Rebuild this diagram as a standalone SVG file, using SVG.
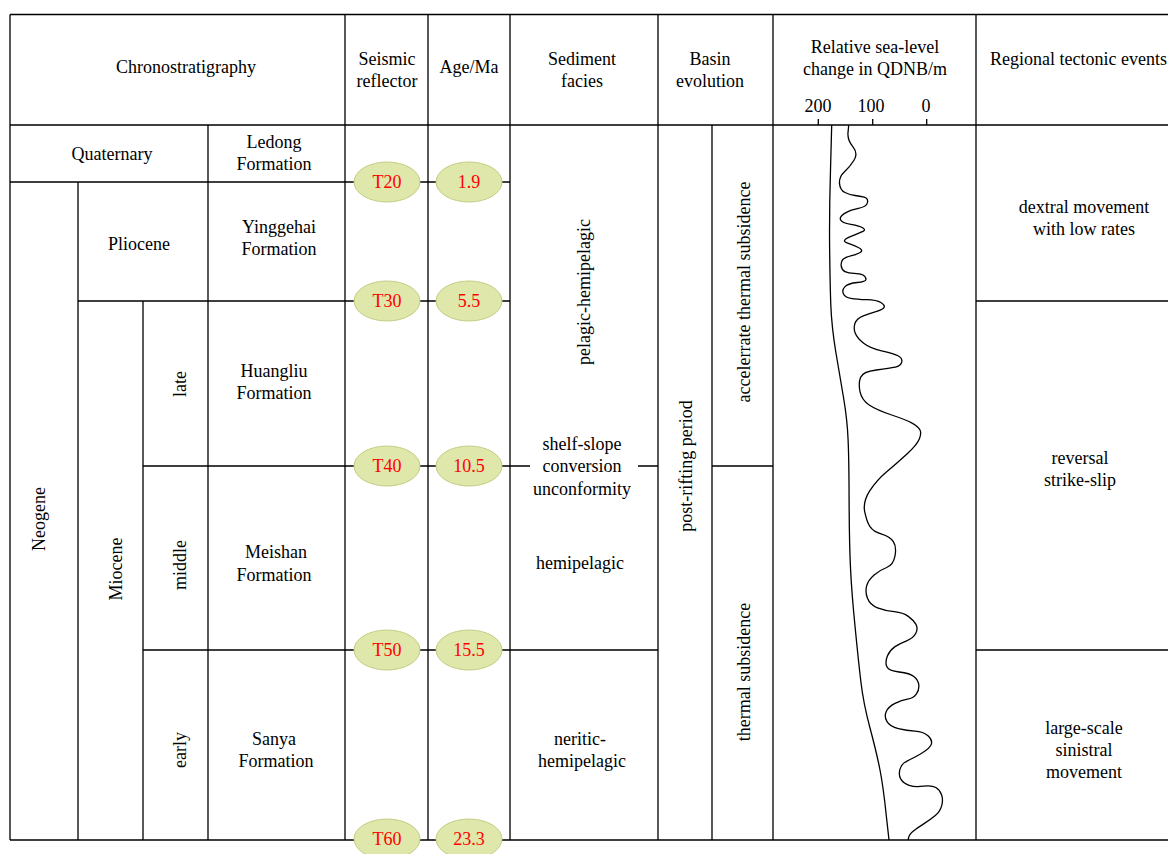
<svg xmlns="http://www.w3.org/2000/svg" width="1168" height="854" viewBox="0 0 1168 854">
<style>
text{font-family:"Liberation Serif","Times New Roman",serif;font-size:18px;fill:#000;text-anchor:middle}
.r{fill:#ff0000}
.ln{stroke:#000;stroke-width:1.3;fill:none}
.el{fill:#dfe7aa;stroke:#c4cd85;stroke-width:1}
.cv{stroke:#000;stroke-width:1.3;fill:none;stroke-linejoin:round}
</style>
<rect width="1168" height="854" fill="#fff"/>
<g id="connectors" class="ln">
<path d="M10,14.5H1170M10,125H1170M10,840H1170M10,14.5V840"/>
<path d="M78,182V840M143,301V840M208,125V840M345,14.5V840M428,14.5V840M510,14.5V840M658,14.5V840M712,125V840M773,14.5V840M976,14.5V840"/>
<path d="M10,182H510M78,301H510M976,301H1170M143,466H530M638,466H658M712,466H773M143,650H658M976,650H1170"/>
<path d="M818.3,119V125M872.7,119V125M926.7,119V125"/>
</g>
<g id="header">
<text x="186" y="73">Chronostratigraphy</text>
<text x="387" y="65">Seismic</text><text x="387" y="87">reflector</text>
<text x="469" y="73">Age/Ma</text>
<text x="582" y="65">Sediment</text><text x="582" y="87">facies</text>
<text x="710" y="65">Basin</text><text x="710" y="87">evolution</text>
<text x="875" y="53">Relative sea-level</text><text x="875" y="75">change in QDNB/m</text>
<text x="818" y="112">200</text><text x="871" y="112">100</text><text x="926" y="112">0</text>
<text x="990" y="65" style="text-anchor:start">Regional tectonic events</text>
</g>
<g id="chrono">
<text x="112" y="160">Quaternary</text>
<text x="274" y="148">Ledong</text><text x="274" y="170">Formation</text>
<text x="139" y="250">Pliocene</text>
<text x="279" y="233">Yinggehai</text><text x="279" y="255">Formation</text>
<text x="274" y="377">Huangliu</text><text x="274" y="399">Formation</text>
<text x="276" y="558">Meishan</text><text x="274" y="581">Formation</text>
<text x="274" y="745">Sanya</text><text x="276" y="767">Formation</text>
<text transform="translate(45,519) rotate(-90)">Neogene</text>
<text transform="translate(122,569) rotate(-90)">Miocene</text>
<text transform="translate(186,384) rotate(-90)">late</text>
<text transform="translate(186,565) rotate(-90)">middle</text>
<text transform="translate(186,750) rotate(-90)">early</text>
</g>
<g id="reflectors">
<g id="T20"><ellipse class="el" cx="387" cy="182" rx="33" ry="20"/><text class="r" x="387" y="188">T20</text></g>
<g id="T30"><ellipse class="el" cx="387" cy="301" rx="33" ry="20"/><text class="r" x="387" y="307">T30</text></g>
<g id="T40"><ellipse class="el" cx="387" cy="466" rx="33" ry="20"/><text class="r" x="387" y="472">T40</text></g>
<g id="T50"><ellipse class="el" cx="387" cy="650" rx="33" ry="20"/><text class="r" x="387" y="656">T50</text></g>
<g id="T60"><ellipse class="el" cx="387" cy="839" rx="33" ry="20"/><text class="r" x="387" y="845">T60</text></g>
</g>
<g id="ages">
<g id="a19"><ellipse class="el" cx="469" cy="182" rx="33" ry="20"/><text class="r" x="469" y="188">1.9</text></g>
<g id="a55"><ellipse class="el" cx="469" cy="301" rx="33" ry="20"/><text class="r" x="469" y="307">5.5</text></g>
<g id="a105"><ellipse class="el" cx="469" cy="466" rx="33" ry="20"/><text class="r" x="469" y="472">10.5</text></g>
<g id="a155"><ellipse class="el" cx="469" cy="650" rx="33" ry="20"/><text class="r" x="469" y="656">15.5</text></g>
<g id="a233"><ellipse class="el" cx="469" cy="839" rx="33" ry="20"/><text class="r" x="469" y="845">23.3</text></g>
</g>
<g id="facies">
<text transform="translate(590,292) rotate(-90)">pelagic-hemipelagic</text>
<text x="582" y="450">shelf-slope</text><text x="582" y="472">conversion</text><text x="582" y="495">unconformity</text>
<text x="580" y="569">hemipelagic</text>
<text x="580" y="745">neritic-</text><text x="582" y="767">hemipelagic</text>
</g>
<g id="basin">
<text transform="translate(692,466) rotate(-90)">post-rifting period</text>
<text transform="translate(750,292) rotate(-90)">accelerrate thermal subsidence</text>
<text transform="translate(750,672) rotate(-90)">thermal subsidence</text>
</g>
<g id="sealevel">
<path class="cv" d="M831.7,125 L830.5,170 Q829.3,210 829.6,246 Q830,283 830.8,305 Q831.7,327 835.8,352 Q840,377 843.6,398 Q847.3,420 848.1,440 Q849,460 849.1,500 Q849.3,543 850.5,568 Q851.7,593 855,626 Q858.3,660 860.8,681 Q863.3,703 870,728 Q876.7,753 880,770 Q883.3,787 886,813 L889,840"/>
<path class="cv" d="M848.7,125.3 L848,132.65 Q847.3,140 852.8,146.65 Q858.3,153.3 854.15,160 Q850,166.7 844.5,171.7 Q839,176.7 839.5,183.35 Q840,190 845,192.5 Q850,195 855,195.5 Q860,196 864.15,197.15 Q868.3,198.3 867.5,202.5 Q866.7,206.7 858.35,208.35 Q850,210 844.65,213.35 Q839.3,216.7 840.5,219.7 Q841.7,222.7 850.85,224.35 Q860,226 863,228 Q866,230 863,231.35 Q860,232.7 850.35,236.7 Q840.7,240.7 847,242.85 Q853.3,245 858.3,247.5 Q863.3,250 860.8,252 Q858.3,254 851.65,255.65 Q845,257.3 842.85,259.5 Q840.7,261.7 841.2,265.85 Q841.7,270 845,271.65 Q848.3,273.3 854.15,273.3 Q860,273.3 863,275 Q866,276.7 866,279.2 Q866,281.7 857.15,282.5 Q848.3,283.3 845,286.65 Q841.7,290 843.35,293.65 Q845,297.3 850.85,298.3 Q856.7,299.3 866.7,299.65 Q876.7,300 880.85,302.5 Q885,305 884.15,307.15 Q883.3,309.3 876.65,311.3 Q870,313.3 863.35,315.8 Q856.7,318.3 855,323.3 Q853.3,328.3 855.3,333.3 Q857.3,338.3 863.65,343.3 Q870,348.3 881.65,350.8 Q893.3,353.3 898,355.8 Q902.7,358.3 901.7,362.15 Q900.7,366 895.35,367.15 Q890,368.3 876.35,370 Q862.7,371.7 860.5,377.5 Q858.3,383.3 860,391.65 Q861.7,400 869.2,405 Q876.7,410 891.7,415 Q906.7,420 912.5,423.35 Q918.3,426.7 920,430 Q921.7,433.3 919.2,439.15 Q916.7,445 906.7,454.15 Q896.7,463.3 886.7,471.65 Q876.7,480 869.7,490.85 Q862.7,501.7 864.7,511.7 Q866.7,521.7 870,526.7 Q873.3,531.7 881.65,534.2 Q890,536.7 893.35,541.7 Q896.7,546.7 895,555.85 Q893.3,565 886.65,567.5 Q880,570 874.15,575 Q868.3,580 866.65,585.85 Q865,591.7 867.5,598.35 Q870,605 877.5,607.85 Q885,610.7 894.15,611.7 Q903.3,612.7 908.3,616.35 Q913.3,620 915.8,624.15 Q918.3,628.3 915.8,633.3 Q913.3,638.3 906.65,640.8 Q900,643.3 895,646.65 Q890,650 887.5,655.85 Q885,661.7 886.65,666.2 Q888.3,670.7 899.15,672 Q910,673.3 914.15,676.65 Q918.3,680 918.8,685 Q919.3,690 916.3,694.15 Q913.3,698.3 907.5,699.15 Q901.7,700 895,703.35 Q888.3,706.7 886.15,711.7 Q884,716.7 887,721.7 Q890,726.7 898.35,728.7 Q906.7,730.7 915,731.2 Q923.3,731.7 928,735.85 Q932.7,740 931.35,744.15 Q930,748.3 921.65,753.3 Q913.3,758.3 907.5,760.8 Q901.7,763.3 900,769.15 Q898.3,775 900.8,779.15 Q903.3,783.3 909.15,785.3 Q915,787.3 923.35,786.15 Q931.7,785 935.85,787.5 Q940,790 941.65,795 Q943.3,800 941.65,805.85 Q940,811.7 935,815.85 Q930,820 923.35,824.15 Q916.7,828.3 912.5,831.65 Q908.3,835 908.3,840"/>
</g>
<g id="tectonic">
<text x="1084" y="213">dextral movement</text><text x="1084" y="235">with low rates</text>
<text x="1080" y="464">reversal</text><text x="1080" y="486">strike-slip</text>
<text x="1084" y="734">large-scale</text><text x="1084" y="756">sinistral</text><text x="1084" y="778">movement</text>
</g>
</svg>
